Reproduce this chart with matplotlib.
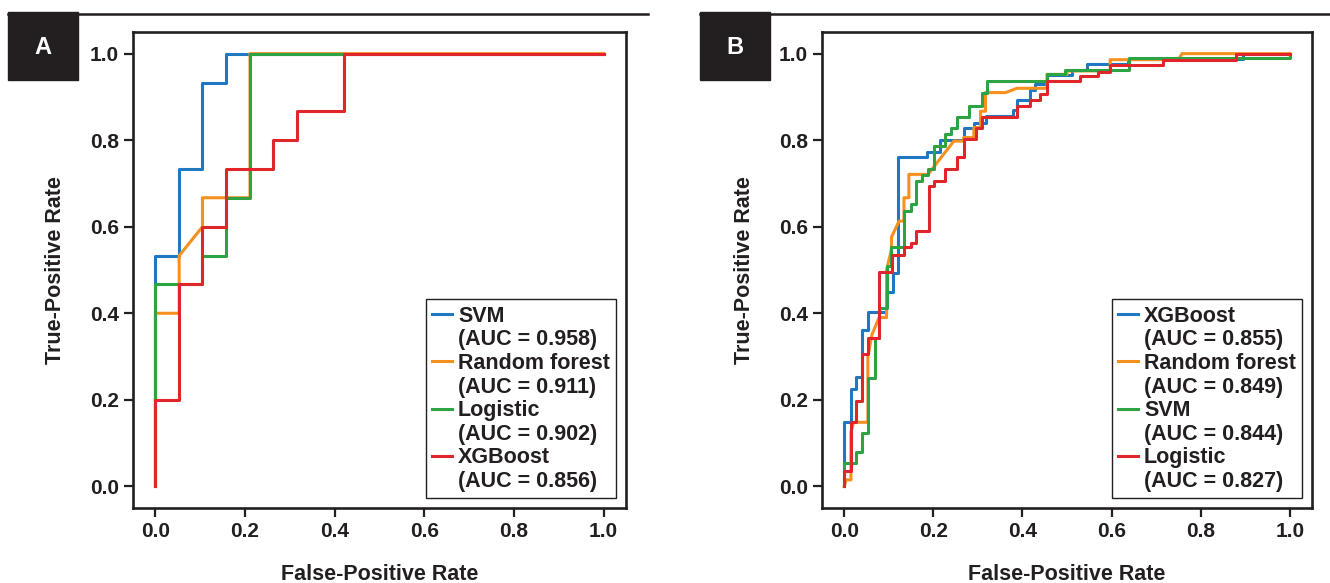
import matplotlib
matplotlib.use("Agg")
from matplotlib import pyplot as plt
from matplotlib.lines import Line2D
from matplotlib.patches import Rectangle

plt.rcParams['font.family'] = ['Liberation Sans', 'DejaVu Sans']
plt.rcParams['font.weight'] = 'bold'

colors = ['#1f78c1', '#f6901f', '#2ca443', '#e0262b']

# panel A (test set)
a_names = ['SVM', 'Random forest', 'Logistic', 'XGBoost']
a_aucs = ['0.958', '0.911', '0.902', '0.856']
a_svm_fpr = [0, 0, 0.053, 0.053, 0.105, 0.105, 0.158, 0.158, 1.0]
a_svm_tpr = [0, 0.533, 0.533, 0.733, 0.733, 0.933, 0.933, 1.0, 1.0]
a_rf_fpr = [0, 0, 0.053, 0.053, 0.105, 0.105, 0.211, 0.211, 1.0]
a_rf_tpr = [0, 0.4, 0.4, 0.533, 0.6, 0.667, 0.667, 1.0, 1.0]
a_log_fpr = [0, 0, 0.105, 0.105, 0.158, 0.158, 0.211, 0.211, 1.0]
a_log_tpr = [0, 0.467, 0.467, 0.533, 0.533, 0.667, 0.667, 1.0, 1.0]
a_xgb_fpr = [0, 0, 0.053, 0.053, 0.105, 0.105, 0.158, 0.158, 0.263, 0.263, 0.316, 0.316, 0.421, 0.421, 1.0]
a_xgb_tpr = [0, 0.2, 0.2, 0.467, 0.467, 0.6, 0.6, 0.733, 0.733, 0.8, 0.8, 0.867, 0.867, 1.0, 1.0]

# panel B (training set)
b_names = ['XGBoost', 'Random forest', 'SVM', 'Logistic']
b_aucs = ['0.855', '0.849', '0.844', '0.827']
b_xgb_fpr = [0, 0, 0.015, 0.015, 0.027, 0.027, 0.039, 0.039, 0.053, 0.053, 0.078, 0.093, 0.093,
             0.109, 0.109, 0.121, 0.121, 0.186, 0.186, 0.215, 0.215, 0.268, 0.268, 0.291, 0.291,
             0.318, 0.318, 0.378, 0.378, 0.388, 0.388, 0.416, 0.416, 0.429, 0.429, 0.455, 0.455,
             0.511, 0.511, 0.545, 0.545, 0.637, 0.637, 0.895, 0.895, 1.0]
b_xgb_tpr = [0, 0.149, 0.149, 0.226, 0.226, 0.253, 0.253, 0.361, 0.361, 0.402, 0.402, 0.402, 0.45,
             0.45, 0.494, 0.494, 0.760, 0.760, 0.773, 0.773, 0.800, 0.800, 0.827, 0.827, 0.840,
             0.840, 0.856, 0.856, 0.870, 0.870, 0.894, 0.894, 0.917, 0.917, 0.929, 0.929, 0.950,
             0.950, 0.962, 0.962, 0.975, 0.975, 0.987, 0.987, 1.0, 1.0]
b_rf_fpr = [0, 0.004, 0.015, 0.015, 0.021, 0.053, 0.053, 0.062, 0.078, 0.095, 0.095, 0.106, 0.106,
            0.123, 0.134, 0.134, 0.145, 0.145, 0.188, 0.246, 0.268, 0.268, 0.291, 0.291, 0.306,
            0.306, 0.317, 0.317, 0.362, 0.388, 0.455, 0.455, 0.5, 0.5, 0.597, 0.597, 0.75, 0.758, 1.0]
b_rf_tpr = [0, 0.015, 0.015, 0.125, 0.148, 0.148, 0.30, 0.35, 0.39, 0.39, 0.50, 0.548, 0.576,
            0.613, 0.613, 0.667, 0.667, 0.721, 0.721, 0.798, 0.798, 0.806, 0.806, 0.829, 0.829,
            0.867, 0.867, 0.91, 0.91, 0.92, 0.92, 0.952, 0.952, 0.96, 0.96, 0.986, 0.986, 1.0, 1.0]
b_svm_fpr = [0, 0, 0.027, 0.027, 0.039, 0.039, 0.053, 0.053, 0.069, 0.069, 0.078, 0.078, 0.097,
             0.097, 0.104, 0.104, 0.134, 0.134, 0.149, 0.149, 0.162, 0.162, 0.175, 0.175, 0.188,
             0.188, 0.201, 0.201, 0.227, 0.227, 0.24, 0.24, 0.253, 0.253, 0.28, 0.28, 0.31, 0.31,
             0.321, 0.321, 0.455, 0.455, 0.496, 0.496, 0.64, 0.64, 1.0, 1.0]
b_svm_tpr = [0, 0.055, 0.055, 0.08, 0.08, 0.123, 0.123, 0.25, 0.25, 0.342, 0.342, 0.413, 0.413,
             0.51, 0.51, 0.552, 0.552, 0.637, 0.637, 0.652, 0.652, 0.706, 0.706, 0.72, 0.72,
             0.733, 0.733, 0.787, 0.787, 0.814, 0.814, 0.827, 0.827, 0.854, 0.854, 0.88, 0.88,
             0.908, 0.908, 0.937, 0.937, 0.952, 0.952, 0.963, 0.963, 0.99, 0.99, 1.0]
b_log_fpr = [0, 0, 0.015, 0.015, 0.027, 0.027, 0.039, 0.039, 0.053, 0.053, 0.078, 0.078, 0.108,
             0.108, 0.134, 0.134, 0.149, 0.149, 0.16, 0.16, 0.19, 0.19, 0.201, 0.201, 0.227, 0.227,
             0.253, 0.253, 0.268, 0.268, 0.295, 0.295, 0.31, 0.31, 0.388, 0.388, 0.416, 0.416,
             0.44, 0.44, 0.456, 0.456, 0.53, 0.53, 0.57, 0.57, 0.597, 0.597, 0.716, 0.716, 0.88,
             0.88, 1.0]
b_log_tpr = [0, 0.036, 0.036, 0.148, 0.148, 0.198, 0.198, 0.305, 0.305, 0.344, 0.344, 0.496, 0.496,
             0.534, 0.534, 0.552, 0.552, 0.563, 0.563, 0.59, 0.59, 0.694, 0.694, 0.706, 0.706,
             0.733, 0.733, 0.761, 0.761, 0.802, 0.802, 0.829, 0.829, 0.853, 0.853, 0.88, 0.88,
             0.894, 0.894, 0.907, 0.907, 0.937, 0.937, 0.948, 0.948, 0.958, 0.958, 0.973, 0.973,
             0.986, 0.986, 1.0, 1.0]

ticks = [0.0, 0.2, 0.4, 0.6, 0.8, 1.0]
W, H = 1330, 583


def draw_panel(ax, curves, names, aucs):
    handles, labels = [], []
    for (fpr, tpr), name, auc, c in zip(curves, names, aucs, colors):
        line, = ax.plot(fpr, tpr, color=c, lw=2.2)
        handles += [line, Line2D([], [], lw=0)]
        labels += [name, '(AUC = %s)' % auc]
    ax.set_xlim(-0.05, 1.05)
    ax.set_ylim(-0.05, 1.05)
    ax.set_xticks(ticks)
    ax.set_yticks(ticks)
    ax.tick_params(labelsize=15, width=1.6, length=6.5, color='#231f20', labelcolor='#231f20')
    for s in ax.spines.values():
        s.set_linewidth(1.9)
        s.set_color('#231f20')
    ax.set_xlabel('False-Positive Rate', fontsize=15.5, fontweight='bold', labelpad=17, color='#231f20')
    ax.set_ylabel('True-Positive Rate', fontsize=15.5, fontweight='bold', labelpad=17, color='#231f20')
    leg = ax.legend(handles, labels, loc='lower right', fontsize=15.5, handlelength=0.9,
                    handletextpad=0.3, labelspacing=0.12, borderpad=0.3, fancybox=False,
                    framealpha=1, edgecolor='#231f20', borderaxespad=0.45)
    leg.get_frame().set_linewidth(1.0)
    for t in leg.get_texts():
        t.set_color('#231f20')


fig = plt.figure(figsize=(W / 100, H / 100), dpi=100)

axA = fig.add_axes([133 / W, 1 - 508 / H, (626 - 133) / W, (508 - 32) / H])
draw_panel(axA, [(a_svm_fpr, a_svm_tpr), (a_rf_fpr, a_rf_tpr), (a_log_fpr, a_log_tpr),
                 (a_xgb_fpr, a_xgb_tpr)], a_names, a_aucs)

axB = fig.add_axes([822 / W, 1 - 508 / H, (1312 - 822) / W, (508 - 32) / H])
draw_panel(axB, [(b_xgb_fpr, b_xgb_tpr), (b_rf_fpr, b_rf_tpr), (b_svm_fpr, b_svm_tpr),
                 (b_log_fpr, b_log_tpr)], b_names, b_aucs)

# panel headers: rule plus black letter box
for x0, x1, letter in [(8, 648, 'A'), (700, 1330, 'B')]:
    fig.add_artist(Line2D([x0 / W, x1 / W], [1 - 13.5 / H] * 2, color='#231f20', lw=1.8,
                          transform=fig.transFigure))
    fig.add_artist(Rectangle((x0 / W, 1 - 80 / H), 70 / W, 68 / H, color='#231f20',
                             transform=fig.transFigure))
    fig.text((x0 + 35) / W, 1 - 47 / H, letter, color='white', fontsize=17, fontweight='bold',
             ha='center', va='center')

fig.savefig('out.png', dpi=100)
